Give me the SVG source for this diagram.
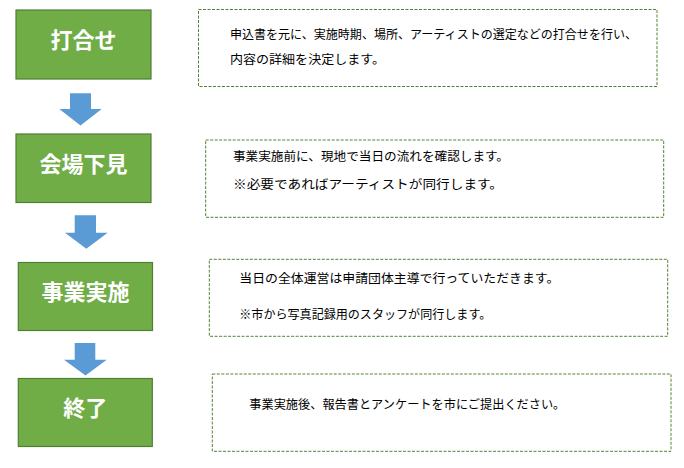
<svg xmlns="http://www.w3.org/2000/svg" width="684" height="468" viewBox="0 0 684 468">
<style>
.step{fill:#70AD47;stroke:#507E32;stroke-width:1.2}
.note{fill:#FFFFFF;stroke:#548235;stroke-width:1;stroke-dasharray:3 1.5}
.lbl{font-family:"Noto Sans CJK JP","Noto Sans CJK SC",sans-serif;font-weight:700;font-size:22px;fill:#FFFFFF;text-anchor:middle}
.txt{font-family:"Noto Sans CJK JP","Noto Sans CJK SC",sans-serif;font-size:12.5px;fill:#000000}
.arrow{fill:#5B9BD5}
</style>
<rect width="684" height="468" fill="#FFFFFF"/>
<g id="connectors">
<polygon class="arrow" points="70,93.3 91,93.3 91,109 101.7,109 80.5,125.5 59.3,109 70,109"/>
<polygon class="arrow" points="74.7,215.3 96,215.3 96,232.7 107.7,232.7 86.3,248.8 65,232.7 74.7,232.7"/>
<polygon class="arrow" points="74.7,343 95.3,343 95.3,359.7 106.7,359.7 85.5,375.5 64,359.7 74.7,359.7"/>
</g>
<g id="step1">
<rect class="step" x="16" y="10" width="135" height="69"/>
<text class="lbl" x="83.5" y="48">打合せ</text>
</g>
<g id="step2">
<rect class="step" x="16" y="134" width="135" height="68.5"/>
<text class="lbl" x="83.5" y="172">会場下見</text>
</g>
<g id="step3">
<rect class="step" x="18.3" y="262.5" width="134.2" height="68"/>
<text class="lbl" x="85.5" y="300">事業実施</text>
</g>
<g id="step4">
<rect class="step" x="18.3" y="378.5" width="134" height="68"/>
<text class="lbl" x="85.3" y="416">終了</text>
</g>
<g id="note1">
<rect class="note" x="198.5" y="9.5" width="458.5" height="77"/>
<text class="txt" x="230" y="38.5" textLength="407" lengthAdjust="spacingAndGlyphs">申込書を元に、実施時期、場所、アーティストの選定などの打合せを行い、</text>
<text class="txt" x="230" y="63.5" textLength="155" lengthAdjust="spacingAndGlyphs">内容の詳細を決定します。</text>
</g>
<g id="note2">
<rect class="note" x="205.7" y="140" width="458" height="77.3"/>
<text class="txt" x="233" y="160.5" textLength="276" lengthAdjust="spacingAndGlyphs">事業実施前に、現地で当日の流れを確認します。</text>
<text class="txt" x="233" y="188.5" textLength="270" lengthAdjust="spacingAndGlyphs">※必要であればアーティストが同行します。</text>
</g>
<g id="note3">
<rect class="note" x="209.3" y="259.3" width="458.4" height="77"/>
<text class="txt" x="239.3" y="282.5" textLength="320" lengthAdjust="spacingAndGlyphs">当日の全体運営は申請団体主導で行っていただきます。</text>
<text class="txt" x="239.3" y="318.5" textLength="252" lengthAdjust="spacingAndGlyphs">※市から写真記録用のスタッフが同行します。</text>
</g>
<g id="note4">
<rect class="note" x="212.3" y="374" width="458.7" height="77.3"/>
<text class="txt" x="249.3" y="408.5" textLength="316" lengthAdjust="spacingAndGlyphs">事業実施後、報告書とアンケートを市にご提出ください。</text>
</g>
</svg>
